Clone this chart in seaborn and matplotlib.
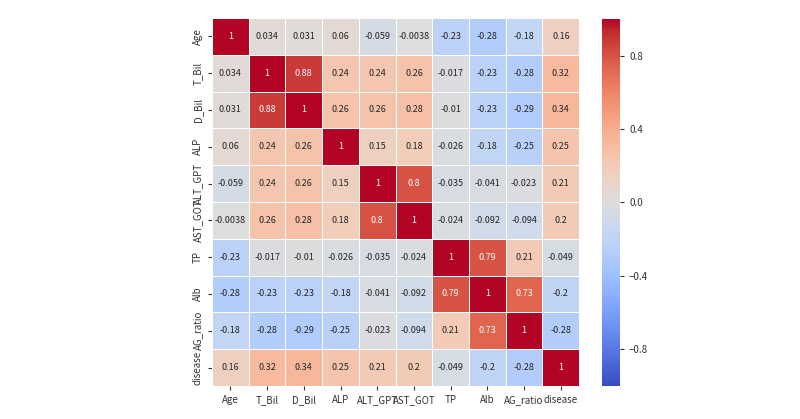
import matplotlib
matplotlib.use("Agg")
import matplotlib.pyplot as plt
import numpy as np
import pandas as pd
import seaborn as sns

sns.set_theme(style="white")
plt.rcParams["font.family"] = ["Noto Sans CJK JP", "DejaVu Sans"]

# ── Data ────────────────────────────────────────────────────
labels = ["Age", "T_Bil", "D_Bil", "ALP", "ALT_GPT", "AST_GOT",
          "TP", "Alb", "AG_ratio", "disease"]

row_age = [1, 0.034, 0.031, 0.06, -0.059, -0.0038, -0.23, -0.28, -0.18, 0.16]
row_tbil = [0.034, 1, 0.88, 0.24, 0.24, 0.26, -0.017, -0.23, -0.28, 0.32]
row_dbil = [0.031, 0.88, 1, 0.26, 0.26, 0.28, -0.01, -0.23, -0.29, 0.34]
row_alp = [0.06, 0.24, 0.26, 1, 0.15, 0.18, -0.026, -0.18, -0.25, 0.25]
row_alt = [-0.059, 0.24, 0.26, 0.15, 1, 0.8, -0.035, -0.041, -0.023, 0.21]
row_ast = [-0.0038, 0.26, 0.28, 0.18, 0.8, 1, -0.024, -0.092, -0.094, 0.2]
row_tp = [-0.23, -0.017, -0.01, -0.026, -0.035, -0.024, 1, 0.79, 0.21, -0.049]
row_alb = [-0.28, -0.23, -0.23, -0.18, -0.041, -0.092, 0.79, 1, 0.73, -0.2]
row_ag = [-0.18, -0.28, -0.29, -0.25, -0.023, -0.094, 0.21, 0.73, 1, -0.28]
row_dis = [0.16, 0.32, 0.34, 0.25, 0.21, 0.2, -0.049, -0.2, -0.28, 1]

corr = pd.DataFrame(
    [row_age, row_tbil, row_dbil, row_alp, row_alt,
     row_ast, row_tp, row_alb, row_ag, row_dis],
    index=labels, columns=labels,
)

# ── Plot ────────────────────────────────────────────────────
fig = plt.figure(figsize=(8, 4.19), dpi=100)
ax = fig.add_axes([0.265, 0.079, 0.459, 0.878])
cax = fig.add_axes([0.7525, 0.079, 0.0225, 0.876])

sns.heatmap(
    corr,
    vmin=-1, vmax=1,
    cmap="coolwarm",
    annot=True,
    annot_kws={"fontsize": 6.5},
    linewidths=0.5,
    linecolor="white",
    ax=ax,
    cbar_ax=cax,
    cbar_kws={"ticks": [-0.8, -0.4, 0.0, 0.4, 0.8]},
)

ax.tick_params(axis="both", labelsize=7, colors="#333333", length=3, width=0.8,
               bottom=True, left=True)
ax.set_yticklabels(labels, rotation=90, va="center")
ax.set_xticklabels(labels, rotation=0)
cax.tick_params(labelsize=7, colors="#333333", length=3, width=0.8, right=True)
cax.set_yticklabels(["\u22120.8", "\u22120.4", "0.0", "0.4", "0.8"])
for sp in cax.spines.values():
    sp.set_visible(False)

fig.savefig("out.png", dpi=100)
plt.close(fig)
